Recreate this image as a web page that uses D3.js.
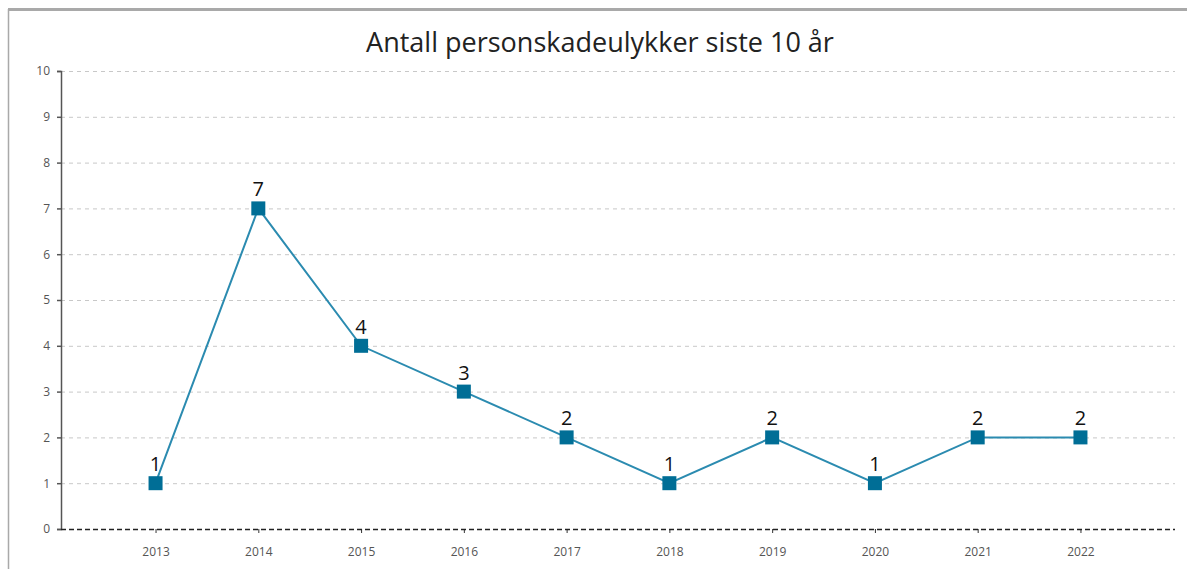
<!DOCTYPE html>
<html lang="no">
<head>
    <meta charset="utf-8" />
    <title>Antall personskadeulykker siste 10 år</title>
    <script src="https://d3js.org/d3.v7.min.js"></script>
    <style>
        body { margin: 0; background: #fff; }
        .grid line { stroke: #c8c8c8; stroke-dasharray: 4,4; }
        .yaxis text, .xaxis text { font-family: "Open Sans", sans-serif; font-size: 12px; fill: #555; }
    </style>
</head>
<body>
    <script>
        // data
        var years = ["2013", "2014", "2015", "2016", "2017", "2018", "2019", "2020", "2021", "2022"];
        var accidents = [1, 7, 4, 3, 2, 1, 2, 1, 2, 2];
        var yTicks = [0, 1, 2, 3, 4, 5, 6, 7, 8, 9, 10];

        var width = 1187, height = 569;
        var mLeft = 61, mRight = 1175, mTop = 71, mBottom = 529;

        var svg = d3.select("body").append("svg")
            .attr("width", width)
            .attr("height", height);

        // ramme
        svg.append("line").attr("x1", 8).attr("x2", width).attr("y1", 9.5).attr("y2", 9.5)
            .attr("stroke", "#a9a9a9").attr("stroke-width", 3);
        svg.append("line").attr("x1", 8.5).attr("x2", 8.5).attr("y1", 9).attr("y2", height)
            .attr("stroke", "#a9a9a9").attr("stroke-width", 1.5);

        var x = d3.scalePoint().domain(years).range([mLeft, mRight]).padding(0.92);
        var y = d3.scaleLinear().domain([0, 10]).range([mBottom, mTop]);

        svg.append("text")
            .attr("x", 600).attr("y", 52)
            .attr("text-anchor", "middle")
            .style("font-family", "'Open Sans', sans-serif")
            .style("font-size", "27px")
            .style("fill", "#222")
            .text("Antall personskadeulykker siste 10 år");

        // rutenett
        svg.append("g").attr("class", "grid")
            .selectAll("line")
            .data(yTicks.filter(function (d) { return d > 0; }))
            .enter().append("line")
            .attr("x1", mLeft).attr("x2", mRight)
            .attr("y1", function (d) { return y(d) + 0.5; })
            .attr("y2", function (d) { return y(d) + 0.5; });

        // y-akse
        var yAxis = svg.append("g").attr("class", "yaxis")
            .attr("transform", "translate(" + mLeft + ",0)")
            .call(d3.axisLeft(y).tickValues(yTicks).tickSize(4).tickPadding(7));
        yAxis.select(".domain").attr("stroke", "#555").attr("stroke-width", 1.5);
        yAxis.selectAll(".tick line").attr("stroke", "#555").attr("stroke-width", 1.5);

        // x-akse
        var xAxis = svg.append("g").attr("class", "xaxis")
            .attr("transform", "translate(0," + mBottom + ")")
            .call(d3.axisBottom(x).tickSize(4).tickPadding(14));
        xAxis.select(".domain").remove();
        xAxis.selectAll(".tick line").attr("stroke", "#333");
        xAxis.append("line")
            .attr("x1", mLeft).attr("x2", mRight)
            .attr("y1", 0.5).attr("y2", 0.5)
            .attr("stroke", "#222").attr("stroke-width", 1.5)
            .attr("stroke-dasharray", "5,3");

        // linje
        var line = d3.line()
            .x(function (d, i) { return x(years[i]); })
            .y(function (d) { return y(d); });

        svg.append("path")
            .datum(accidents)
            .attr("fill", "none")
            .attr("stroke", "#2b8bb0")
            .attr("stroke-width", 2)
            .attr("d", line);

        var sz = 14;
        svg.append("g").selectAll("rect")
            .data(accidents)
            .enter().append("rect")
            .attr("x", function (d, i) { return x(years[i]) - sz / 2; })
            .attr("y", function (d) { return y(d) - sz / 2; })
            .attr("width", sz).attr("height", sz)
            .attr("fill", "#006e96");

        svg.append("g").selectAll("text")
            .data(accidents)
            .enter().append("text")
            .attr("x", function (d, i) { return x(years[i]); })
            .attr("y", function (d) { return y(d) - 12; })
            .attr("text-anchor", "middle")
            .style("font-family", "'Open Sans', sans-serif")
            .style("font-size", "20px")
            .style("fill", "#111")
            .text(function (d) { return d; });
    </script>
</body>
</html>
